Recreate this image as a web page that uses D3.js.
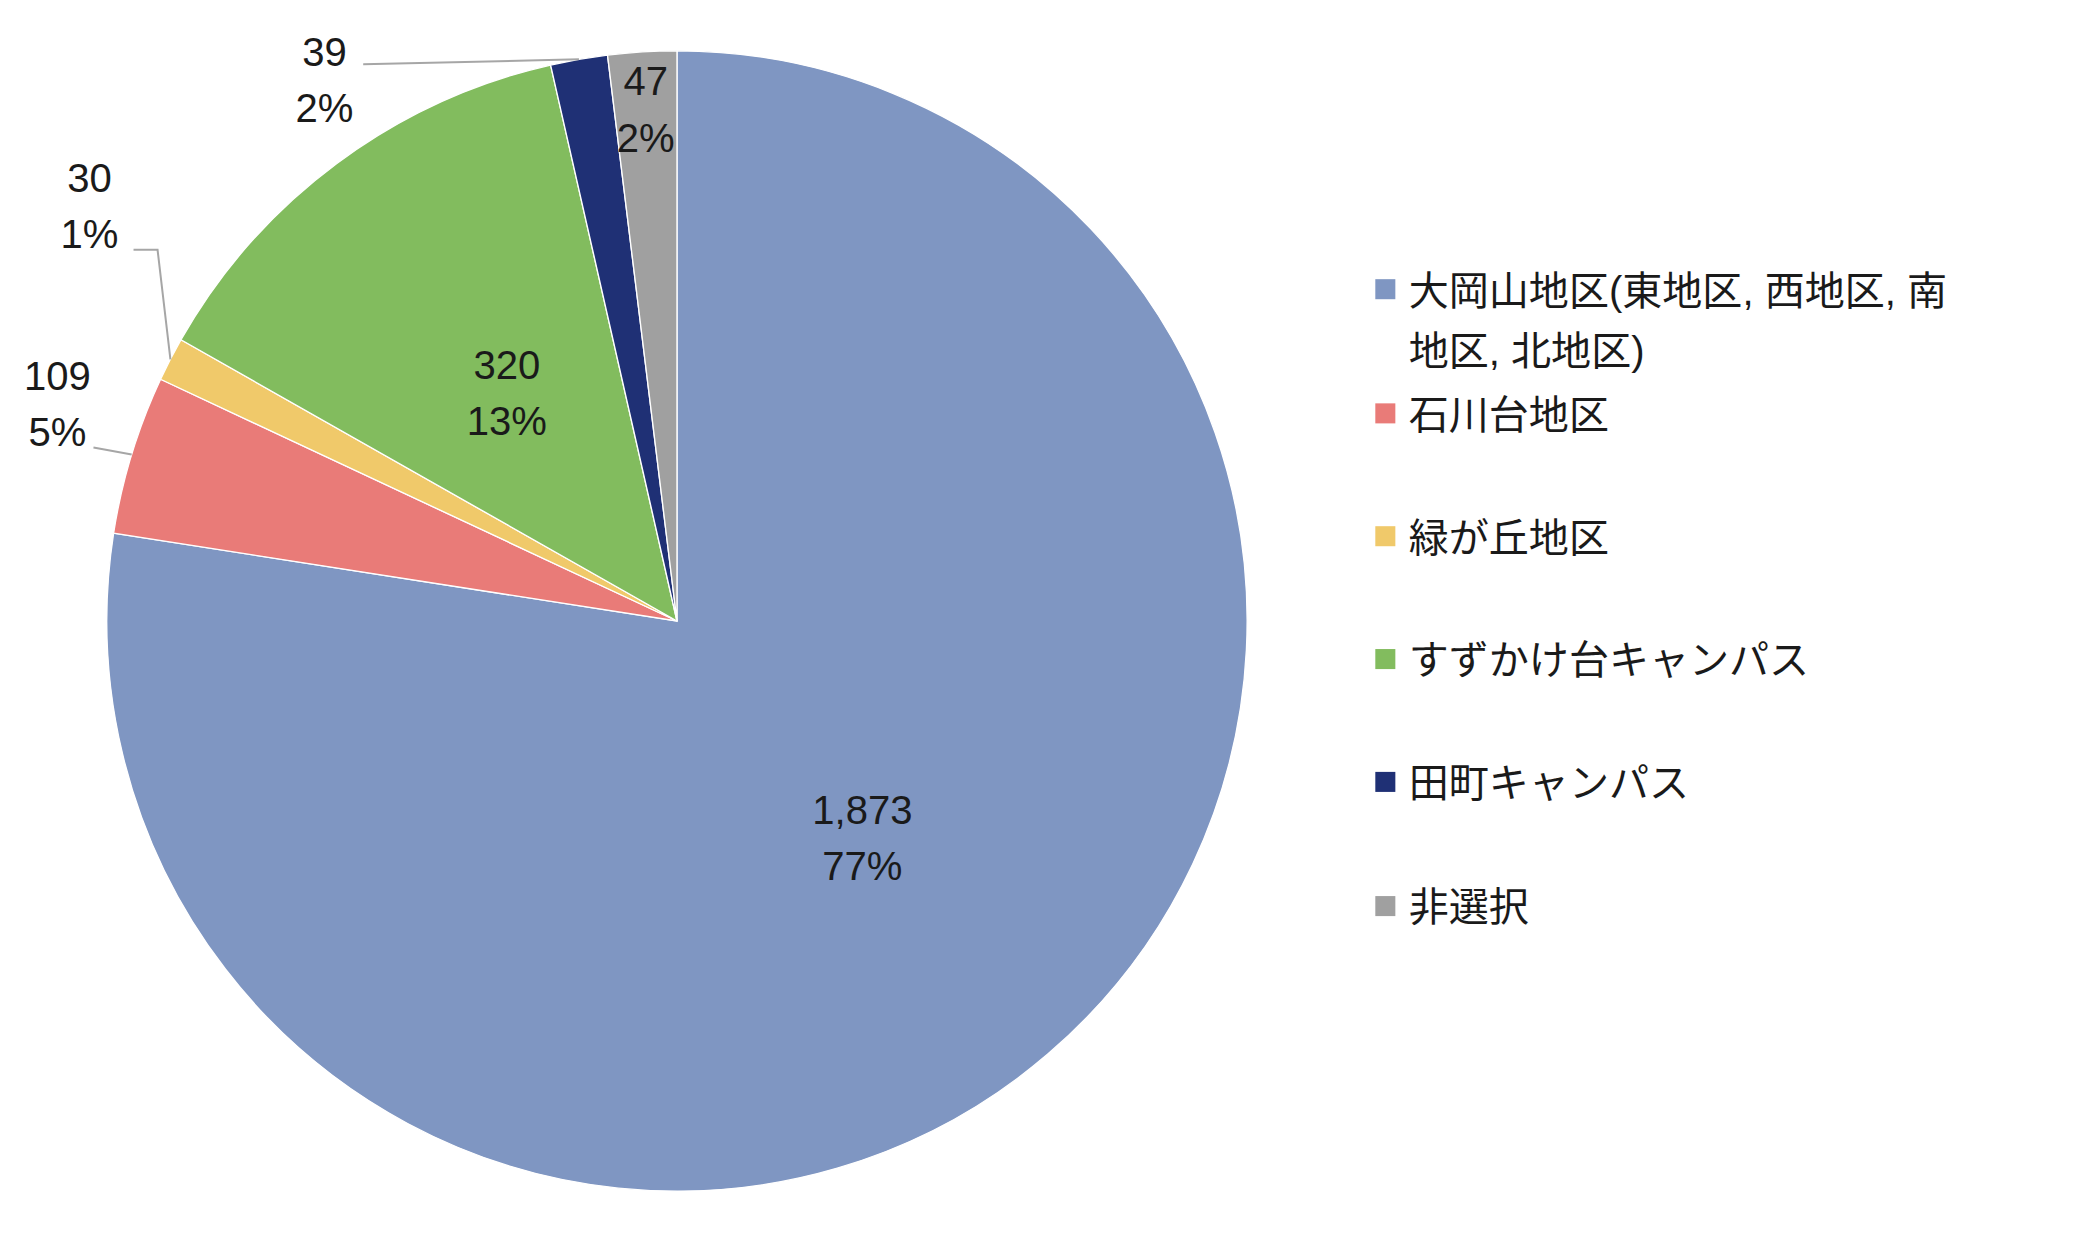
<!DOCTYPE html>
<html lang="ja">
<head>
<meta charset="UTF-8" />
<style>
  * { margin:0; padding:0; }
  body { background:#fff; width:2083px; height:1234px; overflow:hidden; }
  svg { font-family:Arial, 'Liberation Sans', 'Noto Sans CJK JP', sans-serif; }
</style>
</head>
<body>
<script src="https://d3js.org/d3.v7.min.js"></script>
<script>
  const categories = ['大岡山地区(東地区, 西地区, 南地区, 北地区)', '石川台地区', '緑が丘地区', 'すずかけ台キャンパス', '田町キャンパス', '非選択'];
  const values = [1873, 109, 30, 320, 39, 47];
  const legendLines = [['大岡山地区(東地区, 西地区, 南', '地区, 北地区)'], ['石川台地区'], ['緑が丘地区'], ['すずかけ台キャンパス'], ['田町キャンパス'], ['非選択']];
  const colors = ['#7f96c2', '#e97b78', '#f0c96a', '#82bc5e', '#1f3075', '#a0a0a0'];

  const svg = d3.select('body').append('svg')
    .attr('width', 2083).attr('height', 1234)
    .attr('viewBox', '0 0 1560 924');
  const cx = 507, cy = 465, R = 427;
  const g = svg.append('g').attr('transform', `translate(${cx},${cy})`);
  const pie = d3.pie().sort(null).value(d => d)(values);
  const arc = d3.arc().innerRadius(0).outerRadius(R);
  g.selectAll('path').data(pie).join('path')
    .attr('d', arc).attr('fill', (d, i) => colors[i])
    .attr('stroke', '#fff').attr('stroke-width', 1);

  const total = d3.sum(values);
  const fmt = d3.format(',');
  const pct = v => Math.round(v / total * 100) + '%';
  // label placement: inside -> radius factor; outside -> absolute label position + leader
  const place = [
    { r: 0.5 }, { x: 43, y: 302, lead: [[70, 335]] }, { x: 67, y: 154, lead: [[118, 187], [100, 187]] },
    { r: 0.5 }, { x: 243, y: 59, lead: [[272, 48]] }, { r: 0.9 }
  ];
  pie.forEach((d, i) => {
    const a = (d.startAngle + d.endAngle) / 2;
    const p = place[i];
    let lx, ly;
    if (p.r) { lx = cx + Math.sin(a) * R * p.r; ly = cy - Math.cos(a) * R * p.r; }
    else {
      lx = p.x; ly = p.y;
      const pts = [[cx + Math.sin(a) * R, cy - Math.cos(a) * R]].concat(p.lead);
      svg.append('path').attr('d', d3.line()(pts)).attr('fill', 'none')
        .attr('stroke', '#a6a6a6').attr('stroke-width', 1.5);
    }
    const t = svg.append('text').attr('text-anchor', 'middle').attr('font-size', 30).attr('fill', '#1a1a1a');
    t.append('tspan').attr('x', lx).attr('y', ly - 10).text(fmt(values[i]));
    t.append('tspan').attr('x', lx).attr('y', ly + 32).text(pct(values[i]));
  });

  const legY = [217, 310, 402, 494, 586, 679];
  legendLines.forEach((lines, i) => {
    svg.append('rect').attr('x', 1030).attr('y', legY[i] - 8).attr('width', 15).attr('height', 15).attr('fill', colors[i]);
    lines.forEach((s, j) => {
      svg.append('text').attr('x', 1055).attr('y', legY[i] + 11 + j * 45)
        .attr('font-size', 30).attr('fill', '#1a1a1a').text(s);
    });
  });
</script>
</body>
</html>
